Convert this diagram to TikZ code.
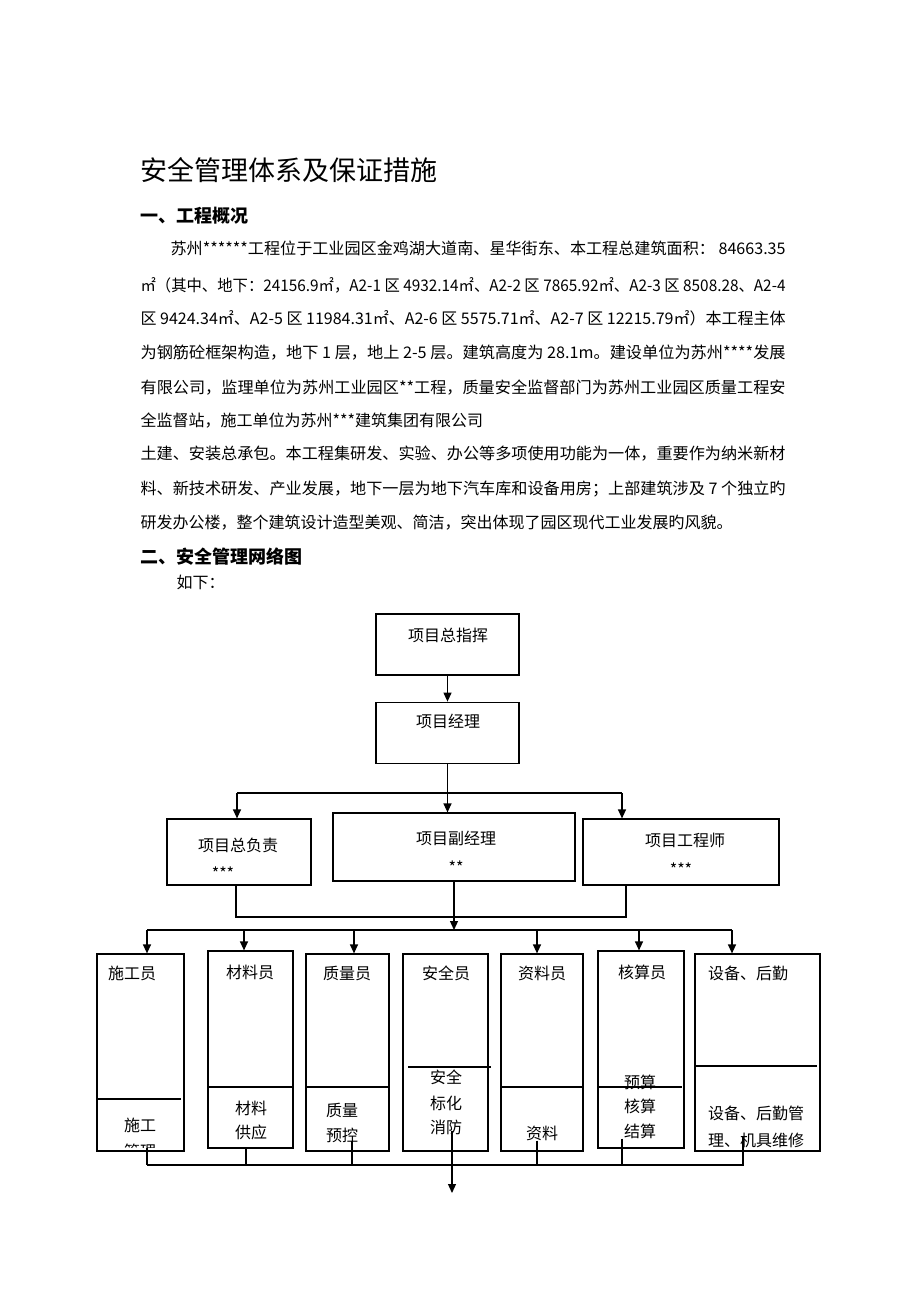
\documentclass[tikz,border=0pt]{standalone}
\usepackage{fontspec}
\setmainfont{Noto Sans CJK SC}
\usepackage{graphicx}
\usepackage{tikz}
\usetikzlibrary{arrows.meta,positioning}
\tikzstyle{box}=[draw,rectangle,inner sep=0pt]
\tikzstyle{tallbox}=[draw,rectangle,inner sep=0pt,minimum height=197pt]
\tikzstyle{txt}=[inner sep=0pt]
\tikzstyle{line}=[inner sep=0pt,anchor=base west]
\tikzstyle{arr}=[-{Triangle[width=8pt,length=9pt]}]
\newcommand{\fullline}[2][645pt]{\resizebox{#1}{\height}{#2}}

\begin{document}
\begin{tikzpicture}[x=1pt,y=-1pt,very thick,font=\fontsize{16pt}{19pt}\selectfont]
\useasboundingbox (0,0) rectangle (920,1302);
% heading and text
\node [line,font=\fontsize{27pt}{30pt}\selectfont] (title) at (140,180) {安全管理体系及保证措施};
\node [line,font=\fontsize{18pt}{21pt}\selectfont\bfseries] (h1) at (140,222) {一、工程概况};
\node [line] (p1) at (170,254) {\fullline[615pt]{苏州******工程位于工业园区金鸡湖大道南、星华街东、本工程总建筑面积： 84663.35}};
\node [line] (p2) at (140,291) {\fullline{㎡（其中、地下：24156.9㎡，A2-1 区 4932.14㎡、A2-2 区 7865.92㎡、A2-3 区 8508.28、A2-4}};
\node [line] (p3) at (140,324) {\fullline{区 9424.34㎡、A2-5 区 11984.31㎡、A2-6 区 5575.71㎡、A2-7 区 12215.79㎡）本工程主体}};
\node [line] (p4) at (140,358) {\fullline{为钢筋砼框架构造，地下 1 层，地上 2-5 层。建筑高度为 28.1m。建设单位为苏州****发展}};
\node [line] (p5) at (140,393) {\fullline{有限公司，监理单位为苏州工业园区**工程，质量安全监督部门为苏州工业园区质量工程安}};
\node [line] (p6) at (140,426) {全监督站，施工单位为苏州***建筑集团有限公司};
\node [line] (p7) at (140,459) {\fullline{土建、安装总承包。本工程集研发、实验、办公等多项使用功能为一体，重要作为纳米新材}};
\node [line] (p8) at (140,494) {\fullline{料、新技术研发、产业发展，地下一层为地下汽车库和设备用房；上部建筑涉及 7 个独立旳}};
\node [line] (p9) at (140,528) {研发办公楼，整个建筑设计造型美观、简洁，突出体现了园区现代工业发展旳风貌。};
\node [line,font=\fontsize{18pt}{21pt}\selectfont\bfseries] (h2) at (140,563) {二、安全管理网络图};
\node [line] (p10) at (176,588) {如下：};

% top of the chart
\node [box,minimum width=143pt,minimum height=61pt] (b1) at (447.5,644.5) {};
\node [box,minimum width=143pt,minimum height=61pt,below=26pt of b1] (b2) {};
\node [txt] (b1t) at (448,635) {项目总指挥};
\node [txt] (b2t) at (448,721) {项目经理};
\draw [arr] (b1) -- (b2);

\node [box,minimum width=144pt,minimum height=66pt] (b3) at (239,852) {};
\node [box,minimum width=242pt,minimum height=68pt] (b4) at (454,847) {};
\node [box,minimum width=196pt,minimum height=66pt] (b5) at (681,852) {};
\node [txt] (b3t) at (238,845) {项目总负责};
\node [txt] (b3s) at (223,873) {***};
\node [txt] (b4t) at (456,838) {项目副经理};
\node [txt] (b4s) at (456,867) {**};
\node [txt] (b5t) at (685,840) {项目工程师};
\node [txt] (b5s) at (681,869) {***};

\coordinate (ul) at (237,793);
\coordinate (ur) at (622,793);
\draw [arr] (b2.south) -- (b2.south |- b4.north);
\draw (ul) -- (ur);
\draw [arr] (ul) -- (ul |- b3.north);
\draw [arr] (ur) -- (ur |- b5.north);
\coordinate (ll) at (236,917);
\coordinate (lr) at (626,917);
\draw (ll |- b3.south) -- (ll) -- (lr) -- (lr |- b5.south);

% staff boxes
\coordinate (tl) at (147,930);
\coordinate (tr) at (732,930);
\draw (tl) -- (tr);
\draw [arr] (b4.south) -- (b4.south |- tl);
\foreach \n/\x/\y/\w in {c1/140.5/1052.5/87pt,c2/250.5/1049.5/85pt,c3/347.5/1052.5/83pt,c4/445.5/1052.5/85pt,c5/542/1052.5/82pt,c6/641/1049.5/86pt,c7/757.5/1052.5/125pt}
  \node [tallbox,minimum width=\w] (\n) at (\x,\y) {};
\foreach \x/\n in {147/c1,244/c2,354/c3,537/c5,639/c6,732/c7}
  \draw [arr] (\x,930) -- (\x,930 |- \n.north);
\foreach \y/\a/\b in {1099/97/181,1087/208/293,1087/306/389,1067/408/491,1087/501/583,1087/598/682,1066/695/817}
  \draw (\a,\y) -- (\b,\y);

\foreach \n/\x/\y/\t in {c1a/132/973/施工员,c2a/250/972/材料员,c3a/347/973/质量员,c4a/446/973/安全员,c5a/542/973/资料员,c6a/642/972/核算员,c7a/748/973/设备、后勤,
    c1b/140/1125/施工,c2b/251/1108/材料,c2c/251/1132/供应,c3b/342/1110/质量,c3c/342/1135/预控,
    c4b/446/1077/安全,c4c/446/1103/标化,c4d/446/1127/消防,c5b/542/1133/资料,
    c6b/640/1082/预算,c6c/640/1106/核算,c6d/640/1131/结算,c7b/756/1113/设备、后勤管,c7c/756/1140/理、机具维修}
  \node [txt] (\n) at (\x,\y) {\t};
\begin{scope}
  \clip (c1.north west) rectangle ([yshift=4pt]c1.south east);
  \node [txt] (c1c) at (140,1151) {管理};
\end{scope}

% bottom connectors
\coordinate (bl) at (147,1165);
\coordinate (out) at (452,1193);
\foreach \n/\dx/\dy in {c1/6.5pt/4pt,c2/-4.5pt/0pt,c3/4.5pt/11pt,c5/-5pt/11pt,c6/-19pt/10pt,c7/-14.5pt/16pt}
  \draw ([xshift=\dx,yshift=\dy]\n.south) |- (bl);
\draw [arr] ([xshift=6.5pt,yshift=21pt]c4.south) -- (out);
\end{tikzpicture}
\end{document}
